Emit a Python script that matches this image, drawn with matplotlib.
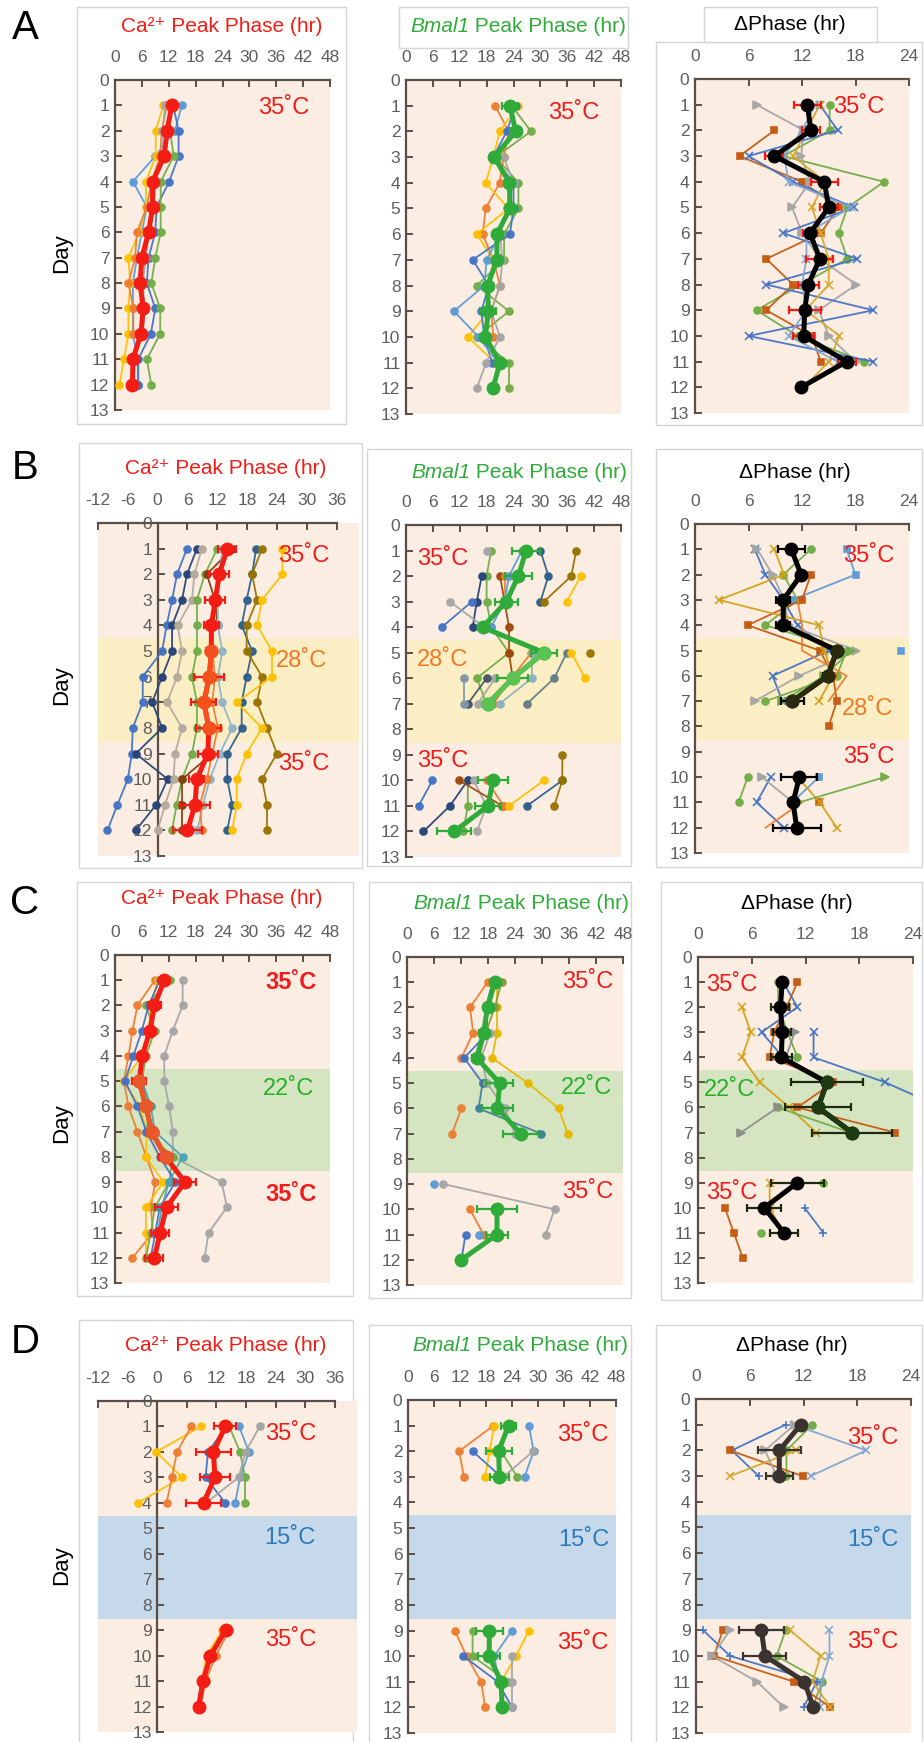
import numpy as np
import matplotlib
matplotlib.use("Agg")
import matplotlib.pyplot as plt
from matplotlib.patches import Rectangle
from matplotlib.text import Annotation

plt.rcParams['font.family'] = ['Liberation Sans', 'DejaVu Sans']
plt.rcParams['axes.unicode_minus'] = False

days = np.arange(1, 13)
N = None

# ---------------- Row A: 35C all days ----------------
a_ca_mean = [12.7, 11.6, 11.0, 8.4, 8.4, 7.5, 6.0, 5.6, 6.3, 5.8, 4.0, 3.9]
a_ca_err = [0.6, 0.5, 0.5, 0.5, 0.5, 0.5, 0.5, 0.5, 0.5, 0.5, 0.5, 0.5]
a_ca_cells = [
    [14.9, 13.4, 9.0, 4.0, 7.1, 6.0, 4.9, 4.0, 4.0, 4.0, 5.0, 5.2],
    [13.0, 14.2, 14.2, 12.1, 9.3, 9.0, 7.5, 7.1, 9.0, 8.0, 5.2, 5.2],
    [12.3, 12.3, 13.1, 10.2, 10.2, 10.2, 9.0, 8.1, 10.1, 10.1, 7.1, 8.1],
    [10.8, 9.1, 9.1, 6.9, 6.9, 5.4, 3.0, 3.4, 3.0, 3.0, 2.0, 1.0],
    [11.6, 10.4, 10.1, 8.2, 7.1, 4.9, 4.5, 3.0, 4.1, 4.1, N, N],
    [11.2, 10.6, 10.3, 9.1, 8.5, 7.6, 6.9, 6.2, 6.6, 6.2, N, N],
]
a_bm_mean = [23.2, 24.5, 19.7, 23.1, 23.2, 20.3, 20.3, 18.2, 18.4, 17.7, 21.0, 19.4]
a_bm_err = [1.7, 1.2, 0.8, 1.0, 0.8, 0.8, 0.8, 0.8, 1.8, 0.8, 0.8, 0.8]
a_bm_cells = [
    [23.6, 27.9, 20.0, 25.1, 25.1, 21.9, 21.9, 15.8, 23.0, 15.8, 23.0, 23.0],
    [19.9, 22.9, 21.8, 20.9, 17.8, 17.1, 19.5, 21.0, 19.0, 19.5, N, N],
    [25.1, 20.9, 19.5, 17.8, 22.9, 15.8, 19.5, 18.5, 18.5, 13.8, 19.9, N],
    [24.5, 22.5, 19.5, 24.0, 24.0, 23.2, 14.9, 18.5, 16.8, 17.5, 19.2, N],
    [N, N, N, N, N, 21.0, 18.0, 17.5, 10.7, 16.2, 20.5, N],
    [N, N, 21.8, 24.0, 22.5, 21.0, 21.5, 21.0, 19.0, 21.0, 17.9, 15.8],
]
a_dp_mean = [12.6, 13.0, 8.9, 14.5, 15.0, 12.9, 14.0, 12.7, 12.3, 12.2, 17.0, 11.9]
a_dp_err = [1.5, 1.0, 1.0, 1.5, 1.0, 0.8, 1.5, 1.2, 1.8, 1.2, 1.0, 0.0]
a_dp_cells = [
    [15.1, 15.1, 9.9, 21.2, 17.1, 16.1, 17.1, 11.9, 6.9, 11.5, 19.0, N],
    [N, 8.9, 5.0, 12.0, 16.1, 14.1, 8.0, 11.0, 8.0, 13.1, 14.1, N],
    [6.9, 12.2, 11.9, 12.9, 10.9, 12.0, 14.0, 18.1, 13.9, 15.0, 18.0, N],
    [14.0, 16.0, 6.0, 11.0, 17.8, 9.9, 18.2, 8.0, 20.0, 6.0, 20.0, N],
    [14.0, 12.5, 11.0, 14.6, 13.1, 14.1, 15.0, 15.0, 12.4, 16.2, 15.0, 12.2],
    [13.5, 12.0, 10.0, 10.5, 17.5, 12.5, 12.5, 12.0, 12.5, 10.5, 16.0, N],
]

# ---------------- Row B: 35C / 28C / 35C ----------------
b_ca_mean = [14.0, 12.4, 11.6, 10.8, 10.8, 10.4, 9.3, 10.3, 10.1, 7.9, 7.5, 6.0]
b_ca_err = [1.8, 2.0, 2.0, 1.5, 1.0, 3.0, 2.5, 2.5, 2.0, 1.5, 3.0, 3.0]
b_ca_cells = [
    [5.9, 3.9, 2.9, 1.8, 0.9, -3.0, -3.0, -5.0, -5.2, -6.0, -8.1, -10.1],
    [7.9, 5.9, 4.9, 2.9, 2.9, 0.9, -1.1, 0.9, -4.4, 2.0, -0.3, -4.4],
    [8.9, 7.4, 6.9, 4.0, 4.9, 3.9, 1.9, 4.9, 3.5, 3.2, 1.5, 0.0],
    [12.0, 9.5, 7.9, 7.9, 7.9, 6.9, 7.9, 7.9, 6.9, 4.9, 3.8, 2.9],
    [15.0, 9.9, 11.5, 12.1, N, N, N, N, 11.0, 4.9, 4.9, 4.9],
    [13.0, 12.5, 12.1, 12.1, 13.0, 12.1, 13.0, 15.0, 12.5, 10.5, 9.1, 8.0],
    [N, N, N, N, 11.0, 11.5, 11.0, 12.1, 11.0, 9.9, 8.5, 8.9],
    [19.8, 19.0, 17.9, 16.9, 19.0, 17.9, 16.9, 16.9, 14.0, 14.0, 15.0, 14.0],
    [21.0, 19.0, 20.0, 17.9, 17.9, 21.0, 20.0, 22.0, 24.0, 21.0, 22.0, 22.0],
    [25.1, 25.1, 21.0, 20.0, 23.0, 23.0, 15.9, 21.0, 17.9, 15.9, 15.9, 15.0],
]
b_bm_mean = [26.8, 25.1, 22.4, 17.1, 30.8, 23.8, 18.3, N, N, 19.4, 18.3, 10.8]
b_bm_err = [3.2, 3.0, 2.5, 0.8, 3.0, 3.5, 1.0, N, N, 3.3, 3.0, 3.8]
b_bm_cells = [
    [19.0, 18.0, 18.0, 19.0, 23.0, 15.8, 18.0, N, N, 13.8, 13.8, 12.8],
    [N, 16.9, 15.8, 14.9, N, N, N, N, N, 13.8, 9.8, 3.9],
    [N, N, 14.7, 8.0, N, N, N, N, N, 5.9, 2.8, N],
    [18.0, N, 9.8, 17.5, N, 19.9, 16.0, N, N, 15.1, 18.0, 15.8],
    [N, 21.0, 22.0, 23.0, 23.0, 23.8, 19.0, N, N, 11.9, 21.5, N],
    [N, 22.0, 22.2, N, 28.0, 23.5, 19.5, N, N, 18.0, 21.8, N],
    [25.9, 23.0, 22.0, 19.0, N, N, N, N, N, N, N, N],
    [N, N, N, N, 28.1, 28.1, 20.9, N, N, N, N, N],
    [N, N, N, N, 35.9, 33.1, 27.0, N, N, N, N, N],
    [30.0, 31.8, 30.0, N, N, N, N, N, N, 34.9, 27.0, N],
    [38.0, 36.9, 30.8, N, 41.0, N, N, N, 34.9, 34.9, 33.1, N],
    [N, 39.0, 35.9, N, 36.9, 40.0, N, N, N, 30.8, 23.0, N],
    [N, N, N, N, N, 18.0, 13.8, N, N, N, N, N],
    [N, N, N, N, N, 13.0, 13.0, N, N, N, N, N],
]
b_dp_mean = [10.8, 11.9, 9.9, 9.9, 15.9, 14.9, 10.9, N, N, 11.7, 11.0, 11.4]
b_dp_err = [1.5, 0.5, 0.8, 0.8, 0.5, 0.5, 1.3, N, N, 2.0, 0.5, 2.7]
b_dp_cells = [
    [6.7, 7.9, 9.9, 11.5, 15.0, 8.7, 9.8, N, N, 8.5, 6.9, 10.0],
    [13.0, 9.9, 11.5, 7.9, 17.0, 15.9, 7.9, N, N, 5.9, 4.9, N],
    [17.0, 18.0, 10.9, N, 23.1, N, N, N, N, 13.9, 10.9, N],
    [N, 13.0, 12.0, 5.9, 14.0, 15.5, 15.9, 15.0, N, N, 13.9, N],
    [7.0, 8.7, 10.0, 10.5, 18.1, 11.7, 6.7, N, N, 7.5, 11.0, N],
    [8.9, 10.0, 2.7, 13.9, 14.5, 15.5, 13.9, N, N, 11.5, 14.0, 15.9],
    [N, N, N, N, 17.5, 14.5, 9.8, N, N, 21.3, 11.7, N],
    [N, N, 11.5, 12.0, 12.0, 17.0, 15.0, N, N, N, 12.0, 7.9],
]

# ---------------- Row C: 35C / 22C / 35C ----------------
c_ca_mean = [11.0, 8.8, 7.8, 6.1, 5.4, 6.9, 8.2, 11.3, 15.6, 11.5, 10.1, 8.8]
c_ca_err = [0.5, 1.5, 0.8, 0.5, 1.5, 0.5, 0.5, 1.5, 2.5, 2.5, 2.0, 2.0]
c_ca_cells = [
    [15.1, 15.1, 12.9, 11.0, 11.0, 12.1, 12.9, 12.9, 23.8, 25.0, 20.9, 20.0],
    [8.9, 5.0, 3.9, 3.0, 2.0, 3.0, 5.0, 7.0, 9.0, 8.0, 8.5, 3.9],
    [9.5, 8.0, 7.5, 6.0, 2.0, 5.5, 7.1, 6.9, 10.8, 6.9, 6.9, 6.9],
    [12.3, 6.9, 8.9, 6.9, 6.0, 8.0, 6.9, 12.9, 12.1, 8.9, 8.0, 6.9],
    [10.0, 7.5, 6.0, 4.1, 2.2, 5.0, 7.0, 10.0, 13.5, 10.0, 9.0, 8.0],
    [N, N, N, N, 6.0, 8.0, 8.9, 15.1, 12.0, 10.5, 9.5, 9.0],
]
c_bm_mean = [19.5, 17.9, 17.0, 15.5, 20.6, 20.1, 25.3, N, N, 20.0, 20.0, 12.1]
c_bm_err = [0.5, 0.5, 1.0, 1.0, 3.0, 3.5, 4.0, N, N, 4.5, 2.5, 0.5]
c_bm_cells = [
    [17.9, 14.0, 14.7, 12.1, N, 12.1, 10.0, N, N, 14.0, 17.0, N],
    [20.0, 20.0, 20.0, 18.9, 26.9, 33.7, 35.7, N, N, 19.5, 20.5, N],
    [19.0, 17.5, 18.0, 12.7, 16.8, N, N, N, N, N, 13.0, 12.1],
    [N, N, N, N, 16.8, 15.9, 29.8, N, N, N, N, N],
    [N, N, 18.5, 16.5, 17.8, 21.7, 24.0, N, 8.1, 32.8, 30.8, N],
    [N, N, N, N, N, N, N, N, 6.0, N, 15.9, N],
    [21.0, 19.5, 17.5, 16.0, N, N, N, N, N, N, N, N],
]
c_dp_mean = [9.4, 9.2, 9.4, 9.3, 14.4, 13.4, 17.2, N, 11.1, 7.4, 9.6, N]
c_dp_err = [0.3, 1.0, 1.0, 1.2, 4.0, 3.7, 4.5, N, 3.0, 1.9, 1.6, N]
c_dp_cells = [
    [11.1, 9.9, 8.5, 8.0, 15.1, 11.1, 22.0, N, N, 3.0, 4.0, 5.0],
    [9.5, 11.1, 7.1, 9.5, N, N, N, N, N, N, N, N],
    [N, N, 12.9, 12.9, 20.9, 27.2, N, N, N, N, N, N],
    [N, N, N, N, N, N, N, N, N, 11.9, 14.0, N],
    [N, 4.9, 5.9, 4.9, 6.9, 10.2, 13.2, N, 8.0, 8.0, 9.5, N],
    [8.9, 9.0, 10.0, 11.1, N, 8.9, 17.0, N, 14.0, N, 7.0, N],
    [N, N, 10.8, 9.8, N, 8.9, 4.8, N, N, N, N, N],
]

# ---------------- Row D: 35C / 15C / 35C ----------------
d_ca_mean = [13.8, 11.4, 11.7, 9.4, N, N, N, N, 13.9, 10.8, 9.3, 8.4]
d_ca_err = [2.2, 3.5, 3.0, 3.6, N, N, N, N, 0.5, 0.5, 0.5, 0.5]
d_ca_cells = [
    [8.9, -0.2, 5.0, -3.9, N, N, N, N, 13.2, 10.0, 9.0, 8.5],
    [6.9, 4.0, 3.0, 1.9, N, N, N, N, 14.6, 11.9, 9.8, 8.8],
    [14.0, 10.3, 9.8, 13.8, N, N, N, N, 13.5, 10.5, 9.0, 8.2],
    [16.6, 18.6, 16.8, 15.8, N, N, N, N, N, N, N, N],
    [14.6, 16.8, 17.8, 17.8, N, N, N, N, N, N, N, N],
    [20.8, 17.9, 16.5, 9.9, N, N, N, N, N, N, N, N],
]
d_bm_mean = [23.2, 20.9, 21.1, N, N, N, N, N, 18.8, 18.7, 21.5, 21.7]
d_bm_err = [1.8, 3.0, 2.2, N, N, N, N, N, 3.2, 2.5, 0.5, 0.5]
d_bm_cells = [
    [19.7, 11.8, 12.9, N, N, N, N, N, 10.8, 13.5, 16.9, 17.8],
    [19.9, 18.8, 17.8, N, N, N, N, N, 27.9, 24.9, 21.5, N],
    [N, 14.9, 21.5, N, N, N, N, N, N, 12.8, 20.7, 24.0],
    [27.9, 29.0, 26.9, N, N, N, N, N, 24.0, 19.9, 21.0, N],
    [N, 21.5, 25.2, N, N, N, N, N, 14.9, 14.9, 23.1, N],
    [N, 28.9, 22.0, N, N, N, N, N, N, 24.0, 24.0, 24.0],
]
d_dp_mean = [11.7, 9.3, 9.3, N, N, N, N, N, 7.3, 7.7, 12.1, 13.1]
d_dp_err = [0.3, 2.4, 1.5, N, N, N, N, N, 2.5, 2.4, 0.3, 0.3]
d_dp_cells = [
    [13.0, 10.1, 10.1, N, N, N, N, N, 10.0, 9.0, 14.1, 13.0],
    [10.9, 19.0, 12.8, N, N, N, N, N, 14.9, 14.9, 14.0, 13.8],
    [10.0, 4.0, 7.0, N, N, N, N, N, 0.8, 3.8, 13.5, 12.0],
    [N, 3.8, 11.9, N, N, N, N, N, 3.0, 2.0, 10.9, 15.0],
    [N, 11.2, 3.8, N, N, N, N, N, 10.5, 13.9, 13.0, 15.0],
    [11.0, 7.7, 9.0, N, N, N, N, N, 3.8, 1.8, 6.8, 9.8],
]

# ---------------- styles ----------------
PEACH = '#fbede1'
SPINE = '#5a4f47'
TICK = '#5e5e5e'
RED = '#f41d16'
GREEN = '#2fab3a'
TXT_RED = '#ee1c1c'

a_ca_colors = ['#5b9bd5', '#4472c4', '#70ad47', '#ffc000', '#ed7d31', '#a5a5a5']
a_bm_colors = ['#70ad47', '#ed7d31', '#ffc000', '#4472c4', '#5b9bd5', '#a5a5a5']
a_dp_colors = ['#70ad47', '#c55a11', '#a5a5a5', '#4472c4', '#d4a72c', '#7fa6d6']
a_dp_marks = ['o', 's', '>', 'x', 'x', 'x']
b_ca_colors = ['#4472c4', '#264478', '#b4aa9c', '#70ad47', '#843c0c', '#8fb4c8',
               '#ed7d31', '#2e5f8a', '#997300', '#ffc000']
b_bm_colors = ['#70ad47', '#264478', '#4472c4', '#a5a5a5', '#9e480e', '#ed7d31',
               '#5b9bd5', '#8fb0c0', '#5f7f86', '#2e5f8a', '#997300', '#ffc000',
               '#44546a', '#7f96a8']
b_dp_colors = ['#4472c4', '#70ad47', '#5b9bd5', '#c55a11', '#a5a5a5', '#d4a017',
               '#70ad47', '#ed7d31']
b_dp_marks = ['x', 'o', 's', 's', '>', 'x', '>', '']
c_ca_colors = ['#a5a5a5', '#ed7d31', '#ffc000', '#70ad47', '#4472c4', '#4ba3b8']
c_bm_colors = ['#ed7d31', '#e6b800', '#4472c4', '#3f7fa0', '#a5a5a5', '#5b9bd5', '#8a9a3b']
c_dp_colors = ['#c55a11', '#4472c4', '#4472c4', '#4472c4', '#d4a017', '#70ad47', '#8c8c8c']
c_dp_marks = ['s', 'x', 'x', '+', 'x', 'o', '>']
d_ca_colors = ['#ffc000', '#ed7d31', '#4472c4', '#5b9bd5', '#70ad47', '#a5a5a5']
d_bm_colors = ['#ed7d31', '#ffc000', '#4472c4', '#5b9bd5', '#70ad47', '#a5a5a5']
d_dp_colors = ['#70ad47', '#7fa6d6', '#4472c4', '#c55a11', '#d4a72c', '#a5a5a5']
d_dp_marks = ['o', 'x', '+', 's', 'x', '>']

W, H = 924, 1742
fig = plt.figure(figsize=(W / 100, H / 100), dpi=100)


def add_ax(l, t, r, b):
    return fig.add_axes([l / W, 1 - b / H, (r - l) / W, (b - t) / H])


def box(l, t, r, b, fill=False):
    fig.add_artist(Rectangle((l / W, 1 - b / H), (r - l) / W, (b - t) / H,
                             transform=fig.transFigure, fill=fill, facecolor='white',
                             edgecolor='#d6d6d6', lw=1.0, zorder=0))


def ftext(x, y, s, **kw):
    return fig.text(x / W, 1 - y / H, s, ha='center', va='center', **kw)


def bmal_title(x, y):
    # italic gene name followed by upright text
    t1 = fig.text(x / W, 1 - y / H, 'Bmal1', ha='left', va='center',
                  color=GREEN, fontsize=15, fontstyle='italic')
    fig.add_artist(Annotation(' Peak Phase (hr)', xy=(1, 0), xycoords=t1,
                              ha='left', va='bottom', color=GREEN, fontsize=15))


def style(ax, xmin, xmax, step, band=None, xright=None, zero=False):
    ax.set_facecolor(PEACH)
    if band:
        ax.axhspan(4.5, 8.55, color=band, lw=0, zorder=0)
    ax.set_xlim(xmin, xright if xright else xmax)
    ax.set_ylim(13, 0)
    ax.set_xticks(np.arange(xmin, xmax + 1, step))
    ax.set_yticks(range(14))
    ax.xaxis.tick_top()
    for s in ['bottom', 'right']:
        ax.spines[s].set_visible(False)
    for s in ['top', 'left']:
        ax.spines[s].set_color(SPINE)
        ax.spines[s].set_linewidth(1.6)
    ax.spines['top'].set_bounds(xmin, xmax)
    if zero:
        ax.spines['left'].set_position(('data', 0))
    ax.tick_params(direction='in', length=5, width=1.4, color=SPINE,
                   labelcolor=TICK, labelsize=12.5)
    ax.tick_params(axis='x', pad=11)
    ax.tick_params(axis='y', pad=4)


def cells(ax, data, colors, marks=None):
    for i, v in enumerate(data):
        m = marks[i] if marks else 'o'
        ax.plot(np.array(v, dtype=float), days, color=colors[i], lw=1.3,
                marker=m if m else None, ms=5 if m in ('o', 's') else 6,
                mew=1.2, alpha=0.95, zorder=3)


def main(ax, mean, err, color, ecolor, alt=None, span=(5, 8)):
    x = np.array(mean, dtype=float)
    e = np.array(err, dtype=float)
    ax.errorbar(x, days, xerr=e, color=color, lw=3.6, marker='o', ms=9,
                ecolor=ecolor, elinewidth=1.6, capsize=3, capthick=1.6, zorder=5)
    if alt:
        sel = (days >= span[0]) & (days <= span[1])
        ax.plot(x[sel], days[sel], color=alt, lw=3.6, marker='o', ms=9, zorder=6)


def temp(ax, x, y, s, color, bold=False):
    ax.text(x, y, s, color=color, fontsize=17, ha='left', va='center',
            fontweight='bold' if bold else 'normal', zorder=7)


CA_T = 'Ca²⁺ Peak Phase (hr)'
DP_T = 'ΔPhase (hr)'
TC = '35˚C'

# ---------------- frames ----------------
box(77, 7, 346, 424)
box(656, 42, 922, 425)
box(399, 7, 628, 48, fill=True)
box(704, 7, 877, 42, fill=True)
box(79, 443, 362, 868)
box(367, 449, 631, 866)
box(656, 449, 922, 867)
box(77, 882, 353, 1296)
box(369, 882, 631, 1298)
box(661, 882, 922, 1300)
box(79, 1320, 353, 1760)
box(369, 1325, 631, 1760)
box(656, 1325, 922, 1760)

# ---------------- Row A ----------------
ax = add_ax(115, 80, 330, 410)
style(ax, 0, 48, 6)
cells(ax, a_ca_cells, a_ca_colors)
main(ax, a_ca_mean, a_ca_err, RED, RED)
temp(ax, 31.9, 1.1, TC, TXT_RED)

ax = add_ax(406, 80, 621, 414)
style(ax, 0, 48, 6)
cells(ax, a_bm_cells, a_bm_colors)
main(ax, a_bm_mean, a_bm_err, GREEN, GREEN)
temp(ax, 31.7, 1.3, TC, TXT_RED)

ax = add_ax(695, 79, 909, 413)
style(ax, 0, 24, 6)
cells(ax, a_dp_cells, a_dp_colors, a_dp_marks)
main(ax, a_dp_mean, a_dp_err, '#000000', RED)
temp(ax, 15.5, 1.1, TC, TXT_RED)

# ---------------- Row B ----------------
ax = add_ax(98, 523, 359, 856)
style(ax, -12, 36, 6, band='#fbeec4', xright=40.5, zero=True)
cells(ax, b_ca_cells, b_ca_colors)
main(ax, b_ca_mean, b_ca_err, RED, RED, alt='#f4511e')
temp(ax, 24.2, 1.3, TC, TXT_RED)
temp(ax, 23.8, 5.4, '28˚C', '#f07a24')
temp(ax, 24.2, 9.4, TC, TXT_RED)

ax = add_ax(406, 525, 621, 857)
style(ax, 0, 48, 6, band='#fbeec4')
cells(ax, b_bm_cells, b_bm_colors)
main(ax, b_bm_mean, b_bm_err, GREEN, GREEN, alt='#5cc353', span=(5, 7))
temp(ax, 2.5, 1.35, TC, TXT_RED)
temp(ax, 2.5, 5.3, '28˚C', '#f07a24')
temp(ax, 2.5, 9.25, TC, TXT_RED)

ax = add_ax(695, 524, 909, 853)
style(ax, 0, 24, 6, band='#fbeec4')
cells(ax, b_dp_cells, b_dp_colors, b_dp_marks)
main(ax, b_dp_mean, b_dp_err, '#000000', '#000000', alt='#2a2a10', span=(5, 7))
temp(ax, 16.6, 1.25, TC, TXT_RED)
temp(ax, 16.5, 7.3, '28˚C', '#f07a24')
temp(ax, 16.6, 9.2, TC, TXT_RED)

# ---------------- Row C ----------------
ax = add_ax(115, 955, 330, 1283)
style(ax, 0, 48, 6, band='#d6e5c1')
cells(ax, c_ca_cells, c_ca_colors)
main(ax, c_ca_mean, c_ca_err, RED, RED, alt='#e8582a')
temp(ax, 33.5, 1.1, TC, TXT_RED, bold=True)
temp(ax, 33.0, 5.3, '22˚C', '#26b026')
temp(ax, 33.5, 9.5, TC, TXT_RED, bold=True)

ax = add_ax(407, 957, 623, 1285)
style(ax, 0, 48, 6, band='#d6e5c1')
cells(ax, c_bm_cells, c_bm_colors)
main(ax, c_bm_mean, c_bm_err, GREEN, GREEN)
temp(ax, 34.4, 1.0, TC, TXT_RED)
temp(ax, 34.2, 5.2, '22˚C', '#26b026')
temp(ax, 34.4, 9.3, TC, TXT_RED)

ax = add_ax(698, 957, 913, 1283)
style(ax, 0, 24, 6, band='#d6e5c1')
cells(ax, c_dp_cells, c_dp_colors, c_dp_marks)
main(ax, c_dp_mean, c_dp_err, '#000000', '#1c2a12', alt='#1f3b14', span=(5, 7))
temp(ax, 0.9, 1.1, TC, TXT_RED)
temp(ax, 0.7, 5.3, '22˚C', '#26b026')
temp(ax, 0.9, 9.4, TC, TXT_RED)

# ---------------- Row D ----------------
ax = add_ax(98, 1401, 357, 1732)
style(ax, -12, 36, 6, band='#c6d9ea', xright=40.5, zero=True)
cells(ax, d_ca_cells, d_ca_colors)
main(ax, d_ca_mean, d_ca_err, RED, RED)
temp(ax, 21.8, 1.3, TC, TXT_RED)
temp(ax, 21.8, 5.4, '15˚C', '#2a7bbd')
temp(ax, 21.8, 9.4, TC, TXT_RED)

ax = add_ax(408, 1400, 616, 1733)
style(ax, 0, 48, 6, band='#c6d9ea')
cells(ax, d_bm_cells, d_bm_colors)
main(ax, d_bm_mean, d_bm_err, GREEN, GREEN)
temp(ax, 34.4, 1.35, TC, TXT_RED)
temp(ax, 34.6, 5.45, '15˚C', '#2a7bbd')
temp(ax, 34.4, 9.5, TC, TXT_RED)

ax = add_ax(696, 1399, 911, 1733)
style(ax, 0, 24, 6, band='#c6d9ea')
cells(ax, d_dp_cells, d_dp_colors, d_dp_marks)
main(ax, d_dp_mean, d_dp_err, '#3b3330', '#3b3330')
temp(ax, 16.9, 1.5, TC, TXT_RED)
temp(ax, 16.9, 5.5, '15˚C', '#2a7bbd')
temp(ax, 16.9, 9.45, TC, TXT_RED)

# ---------------- titles and labels ----------------
ftext(222, 27, CA_T, color=RED, fontsize=15)
ftext(226, 469, CA_T, color=RED, fontsize=15)
ftext(222, 898, CA_T, color=RED, fontsize=15)
ftext(226, 1345, CA_T, color=RED, fontsize=15)

bmal_title(410, 27)
bmal_title(411, 472)
bmal_title(413, 903)
bmal_title(412, 1345)

ftext(790, 25, DP_T, color='black', fontsize=15)
ftext(795, 473, DP_T, color='black', fontsize=15)
ftext(797, 903, DP_T, color='black', fontsize=15)
ftext(792, 1345, DP_T, color='black', fontsize=15)

for letter, y in zip(['A', 'B', 'C', 'D'], [28, 468, 903, 1342]):
    ftext(25, y, letter, color='black', fontsize=29)
for y in [253, 685, 1123, 1565]:
    ftext(62, y, 'Day', color='black', fontsize=16, rotation=90)

fig.savefig('out.png', dpi=100, facecolor='white')
